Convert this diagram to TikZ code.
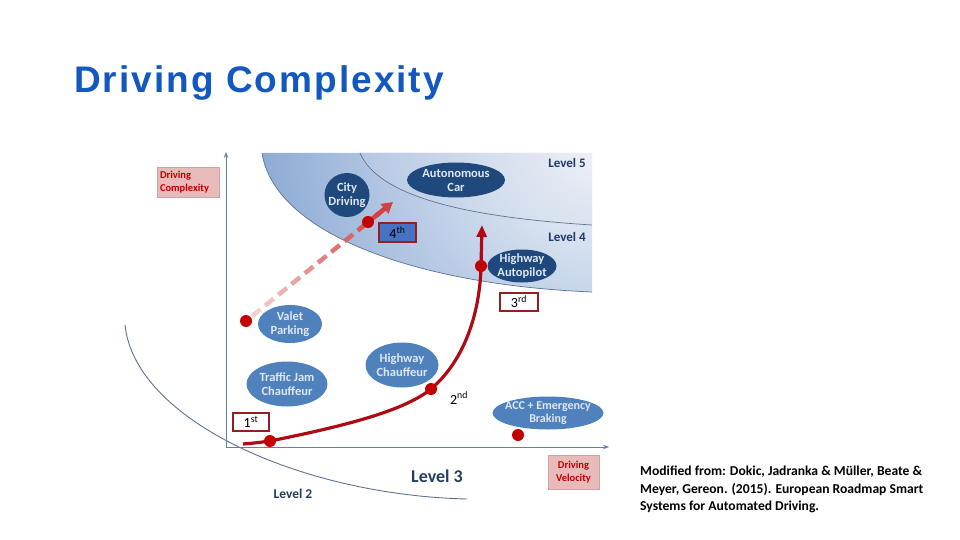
\documentclass[tikz,border=0pt]{standalone}
\usepackage{fontspec}
\setmainfont{Carlito}
\newfontfamily\titlefont[LetterSpace=5.5]{Liberation Sans}
\usetikzlibrary{arrows.meta,calc,shapes.geometric}
\definecolor{titleblue}{RGB}{18,88,190}
\definecolor{navyc}{RGB}{31,73,125}
\definecolor{midblue}{RGB}{79,129,189}
\definecolor{elltext}{RGB}{222,231,243}
\definecolor{levelc}{RGB}{31,56,100}
\definecolor{bandblue}{RGB}{140,170,212}
\definecolor{bandlight}{RGB}{246,248,252}
\definecolor{lvfblue}{RGB}{178,198,226}
\definecolor{lvflight}{RGB}{240,242,247}
\definecolor{arcc}{RGB}{95,115,145}
\definecolor{axisc}{RGB}{100,130,160}
\definecolor{curvered}{RGB}{175,10,20}
\definecolor{dotred}{RGB}{195,0,0}
\definecolor{dashred}{RGB}{205,45,45}
\definecolor{pinkfill}{RGB}{232,186,186}
\definecolor{pinkdraw}{RGB}{215,160,160}
\definecolor{pinktext}{RGB}{192,0,0}
\definecolor{boxred}{RGB}{150,30,35}
\definecolor{box4}{RGB}{72,114,196}
\definecolor{lev23}{RGB}{35,62,95}
\tikzset{
  navyell/.style={ellipse, fill=navyc, inner sep=0},
  midell/.style={ellipse, fill=midblue, inner sep=0},
  ltext/.style={text=elltext, font=\bfseries\fontsize{12.5}{14}\selectfont, align=center, inner sep=0},
  levellab/.style={text=levelc, font=\bfseries\fontsize{13}{14}\selectfont, inner sep=0},
  pinkbox/.style={fill=pinkfill, draw=pinkdraw, line width=0.6, text=pinktext, font=\bfseries\fontsize{10.5}{13}\selectfont, align=left, inner sep=0},
  ordbox/.style={draw=boxred, line width=1.3, fill=white, font=\fontsize{14}{15}\selectfont, inner sep=0},
  reddot/.style={circle, fill=dotred, minimum size=12, inner sep=0},
  arcline/.style={draw=arcc, line width=0.7},
  axisline/.style={draw=axisc, line width=0.9, -{Stealth[length=6,width=4.5]}},
  redcurve/.style={draw=curvered, line width=3.2, -{Triangle[length=12,width=10]}},
}
\begin{document}
\begin{tikzpicture}[x=1pt,y=-1pt]
\useasboundingbox (0,0) rectangle (960,540);
% title
\node[anchor=base west, inner sep=0, text=titleblue, font=\titlefont\bfseries\fontsize{37}{40}\selectfont] (title) at (74,93) {Driving Complexity};

% Level 4 band
\begin{scope}
  \clip (262,153) -- (592,153) -- (592,292) .. controls (420,285) and (275,235) .. (262,153) -- cycle;
  \shade[inner color=bandlight, outer color=bandblue] (600,140) circle (345);
\end{scope}
% Level 5 region
\begin{scope}
  \clip (360,153) -- (592,153) -- (592,225) .. controls (480,218) and (380,200) .. (360,153) -- cycle;
  \shade[inner color=lvflight, outer color=lvfblue] (600,140) circle (250);
\end{scope}
\draw[arcline] (262,153) .. controls (275,235) and (420,285) .. (592,292);
\draw[arcline] (360,153) .. controls (380,200) and (480,218) .. (592,225);
% Level 2 arc
\draw[draw=arcc, line width=0.9] (125,325) .. controls (135,420) and (300,495) .. (467,499);

% axes
\coordinate (O) at (226,447);
\coordinate (ytop) at (226,152);
\coordinate (xend) at (609,447);
\draw[axisline] (O) -- (ytop);
\draw[axisline] (O) -- (xend);

% level labels
\node[levellab] (l5) at (567,163) {Level 5};
\node[levellab] (l4) at (567,237) {Level 4};
\node[levellab, font=\bfseries\fontsize{18}{20}\selectfont, text=lev23] (l3) at (437,476) {Level 3};
\node[levellab, font=\bfseries\fontsize{13.5}{14}\selectfont, text=lev23] (l2) at (293,494) {Level 2};

% axis label boxes
\node[pinkbox, minimum width=62, minimum height=30, text width=56] (dc) at (188,182) {Driving\\Complexity};
\node[pinkbox, minimum width=51, minimum height=34, align=center] (dv) at (573.5,472) {Driving\\Velocity};

% ellipses
\node[navyell, minimum width=45, minimum height=44, label={[ltext]center:City\\Driving}] (city) at (347,195) {};
\node[navyell, minimum width=98, minimum height=35, label={[ltext]center:Autonomous\\Car}] (auto) at (456,180) {};
\node[navyell, minimum width=69, minimum height=33, label={[ltext]center:Highway\\Autopilot}] (hap) at (522,266) {};
\node[midell, minimum width=64, minimum height=38, label={[ltext]center:Valet\\Parking}] (valet) at (290,324) {};
\node[midell, minimum width=81, minimum height=45, label={[ltext]center:Traffic Jam\\Chauffeur}] (tjc) at (287,384) {};
\node[midell, minimum width=73, minimum height=45, label={[ltext]center:Highway\\Chauffeur}] (hc) at (402,365) {};
\node[midell, minimum width=111, minimum height=33, label={[ltext, font=\bfseries\fontsize{12}{13.5}\selectfont]center:ACC + Emergency\\Braking}] (acc) at (548,413) {};

% dashed gradient path
\coordinate (ds) at (246,321);
\coordinate (de) at (393,202);
\foreach \i in {0,...,9}{
  \pgfmathsetmacro\ta{0.04+0.09*\i}
  \pgfmathsetmacro\tb{\ta+0.058}
  \pgfmathsetmacro\cc{22+66*\i/9}
  \draw[draw=dashred!\cc!white, line width=4.5] ($(ds)!\ta!(de)$) -- ($(ds)!\tb!(de)$);
}
\draw[draw=dashred!90!white, line width=4.5, -{Triangle[length=11,width=12]}] ($(ds)!0.88!(de)$) -- (de);

% red curve
\coordinate (c0) at (243,444);
\coordinate (p1) at (270,441);
\coordinate (p2) at (431,389);
\coordinate (p3) at (481,266);
\coordinate (tip) at (482,225);
\draw[redcurve] (c0) .. controls (255,443) .. (p1) .. controls (350,425) and (405,410) .. (p2) .. controls (465,360) and (480,312) .. (p3) -- (tip);

% dots
\node[reddot] (d1) at (p1) {};
\node[reddot] (d2) at (p2) {};
\node[reddot] (d3) at (p3) {};
\node[reddot] (d4) at (518,435) {};
\node[reddot] (d5) at (ds) {};
\node[reddot] (d6) at (368,222) {};

% order labels
\node[ordbox, minimum width=36, minimum height=18] (o1) at (251,422) {1\textsuperscript{st}};
\node[inner sep=1, fill=white, font=\fontsize{14}{15}\selectfont] (o2) at (459,398) {2\textsuperscript{nd}};
\node[ordbox, minimum width=38, minimum height=18] (o3) at (519,302) {3\textsuperscript{rd}};
\node[ordbox, fill=box4, minimum width=37, minimum height=19] (o4) at (397.5,232.5) {4\textsuperscript{th}};

% citation
\node[anchor=north west, inner sep=0, align=left, font=\bfseries\fontsize{13.6}{17.5}\selectfont] (cite) at (640,466) {Modified from: Dokic, Jadranka \& Müller, Beate \&\\Meyer, Gereon. (2015). European Roadmap Smart\\Systems for Automated Driving.};
\end{tikzpicture}
\end{document}
